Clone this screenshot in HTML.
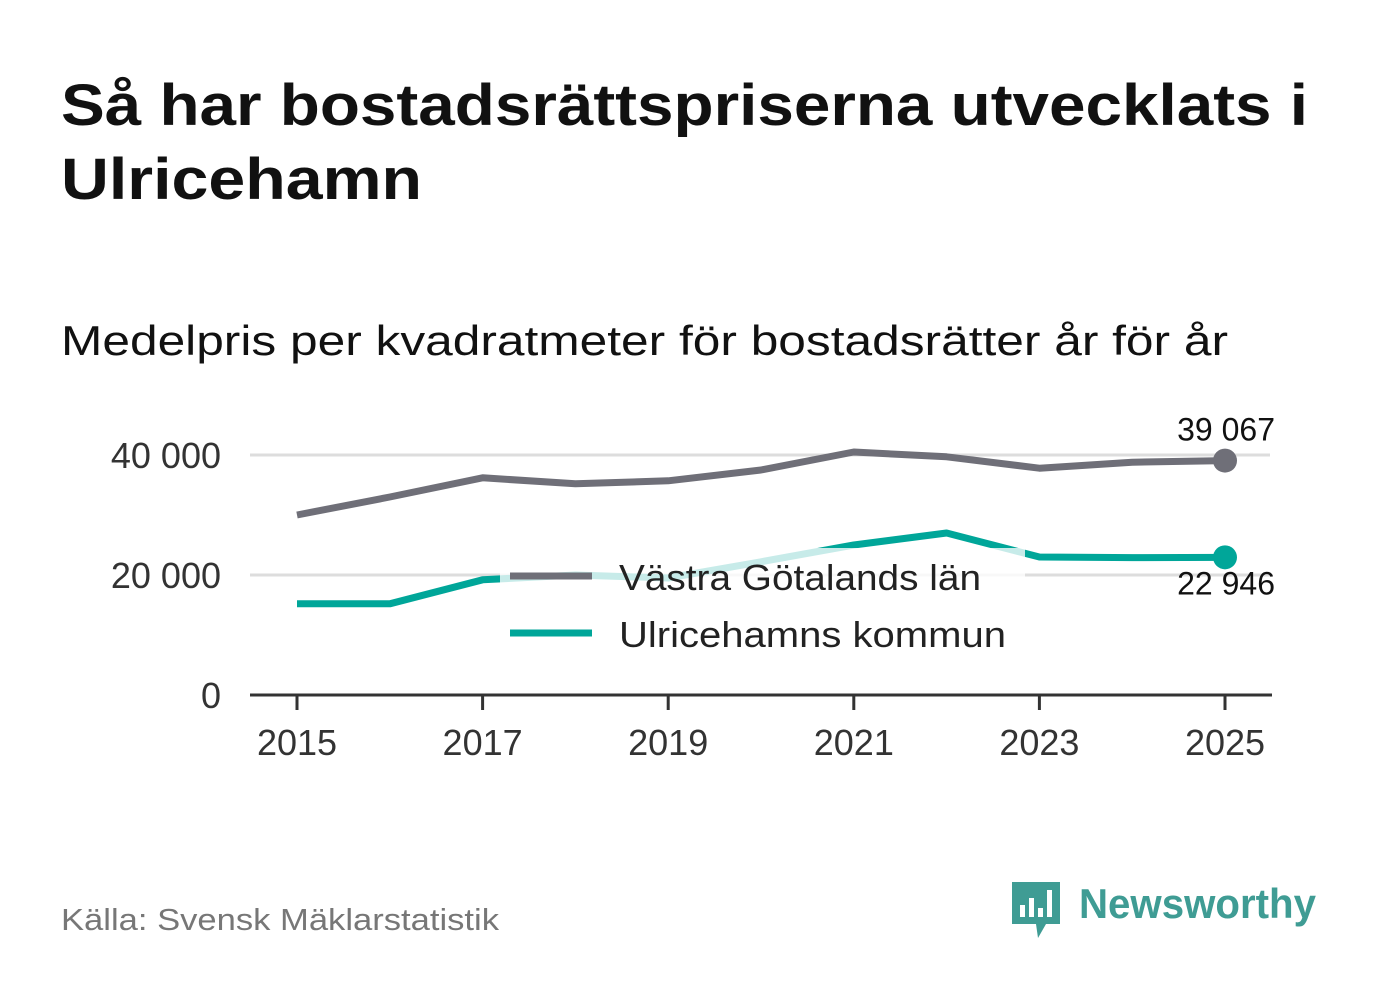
<!DOCTYPE html>
<html><head><meta charset="utf-8"><style>
body{margin:0;background:#fff;width:1382px;height:999px;overflow:hidden;font-family:"Liberation Sans","DejaVu Sans",sans-serif;}
</style></head><body>
<svg width="1382" height="999" xmlns="http://www.w3.org/2000/svg" style="font-family:'Liberation Sans','DejaVu Sans',sans-serif">
<text x="61" y="125" font-size="58" font-weight="bold" fill="#111" textLength="1247" lengthAdjust="spacingAndGlyphs">Så har bostadsrättspriserna utvecklats i</text>
<text x="61" y="199" font-size="58" font-weight="bold" fill="#111" textLength="361" lengthAdjust="spacingAndGlyphs">Ulricehamn</text>
<text x="61" y="355" font-size="42" fill="#111" textLength="1167" lengthAdjust="spacingAndGlyphs">Medelpris per kvadratmeter för bostadsrätter år för år</text>
<g id="grid"></g><g id="lines"></g>
<rect x="500" y="548" width="525" height="112" fill="#fff" opacity="0.78"/>
<g id="marks"></g>
<g>
<line x1="510" y1="576" x2="592" y2="576" stroke="#6f6f78" stroke-width="7"/>
<text x="619" y="590" font-size="36" fill="#222" textLength="362" lengthAdjust="spacingAndGlyphs">Västra Götalands län</text>
<line x1="510" y1="633" x2="592" y2="633" stroke="#00a699" stroke-width="7"/>
<text x="619" y="647" font-size="36" fill="#222" textLength="387" lengthAdjust="spacingAndGlyphs">Ulricehamns kommun</text>
</g>
<text x="61" y="930" font-size="31" fill="#777" textLength="438" lengthAdjust="spacingAndGlyphs">Källa: Svensk Mäklarstatistik</text>
<g>
<path d="M1012 882 h48 v42 h-14 l-8 14 l-2 -14 h-24 z" fill="#3f9c94"/>
<rect x="1020" y="905" width="5" height="12" fill="#fff"/><rect x="1029" y="898" width="5" height="19" fill="#fff"/><rect x="1038" y="908" width="5" height="9" fill="#fff"/><rect x="1047" y="890" width="5" height="27" fill="#fff"/>
<text x="1079" y="918" font-size="42" font-weight="bold" fill="#3f9c94" textLength="237" lengthAdjust="spacingAndGlyphs">Newsworthy</text>
</g>
</svg>
<script>
const years=[2015,2016,2017,2018,2019,2020,2021,2022,2023,2024,2025];
const vastra=[30000,33000,36200,35200,35700,37500,40500,39700,37800,38800,39067];
const ulric=[15200,15200,19200,20000,19500,22200,25000,27000,23000,22900,22946];
const yTicks=[0,20000,40000];
const yTickLabels=["0","20 000","40 000"];
const xTicks=[2015,2017,2019,2021,2023,2025];
const NS="http://www.w3.org/2000/svg";
const x=v=>297+(v-2015)*92.8;
const y=v=>695-v/20000*120;
function mk(t,a,p){const e=document.createElementNS(NS,t);for(const k in a)e.setAttribute(k,a[k]);document.getElementById(p).appendChild(e);return e;}
yTicks.forEach((t,i)=>{
 if(t>0){const g=mk('line',{x1:250,x2:1270,y1:y(t),y2:y(t),stroke:'#ddd','stroke-width':3},'grid');
 
 }
 const l=mk('text',{x:221,y:y(t)+13,'font-size':36,fill:'#333','text-anchor':'end'},'grid');l.textContent=yTickLabels[i];
 
 
});
const ax=mk('line',{x1:250,x2:1272,y1:695,y2:695,stroke:'#333','stroke-width':3},'grid');


xTicks.forEach(t=>{
 const tk=mk('line',{x1:x(t),x2:x(t),y1:695,y2:710,stroke:'#333','stroke-width':3},'grid');
 
 
 const l=mk('text',{x:x(t),y:755,'font-size':36,fill:'#333','text-anchor':'middle'},'grid');l.textContent=t;
 
 
});
function series(vals,col,name,lab,ly){
 const p=mk('polyline',{points:vals.map((v,i)=>x(years[i])+','+y(v)).join(' '),fill:'none',stroke:col,'stroke-width':7,'stroke-linejoin':'round'},'lines');
 
 
 const n=vals.length-1;
 const c=mk('circle',{cx:x(years[n]),cy:y(vals[n]),r:12,fill:col},'marks');
 
 
 const t=mk('text',{x:1275,y:y(vals[n])+ly,'font-size':32,fill:'#111','text-anchor':'end'},'marks');
 t.textContent=lab(vals[n]);
 
 
}
const fmt=v=>String(Math.round(v)).replace(/\B(?=(\d{3})+(?!\d))/g,' ');
series(vastra,'#6f6f78','vastra',fmt,-20);
series(ulric,'#00a699','ulricehamn',fmt,37);
</script>
</body></html>
